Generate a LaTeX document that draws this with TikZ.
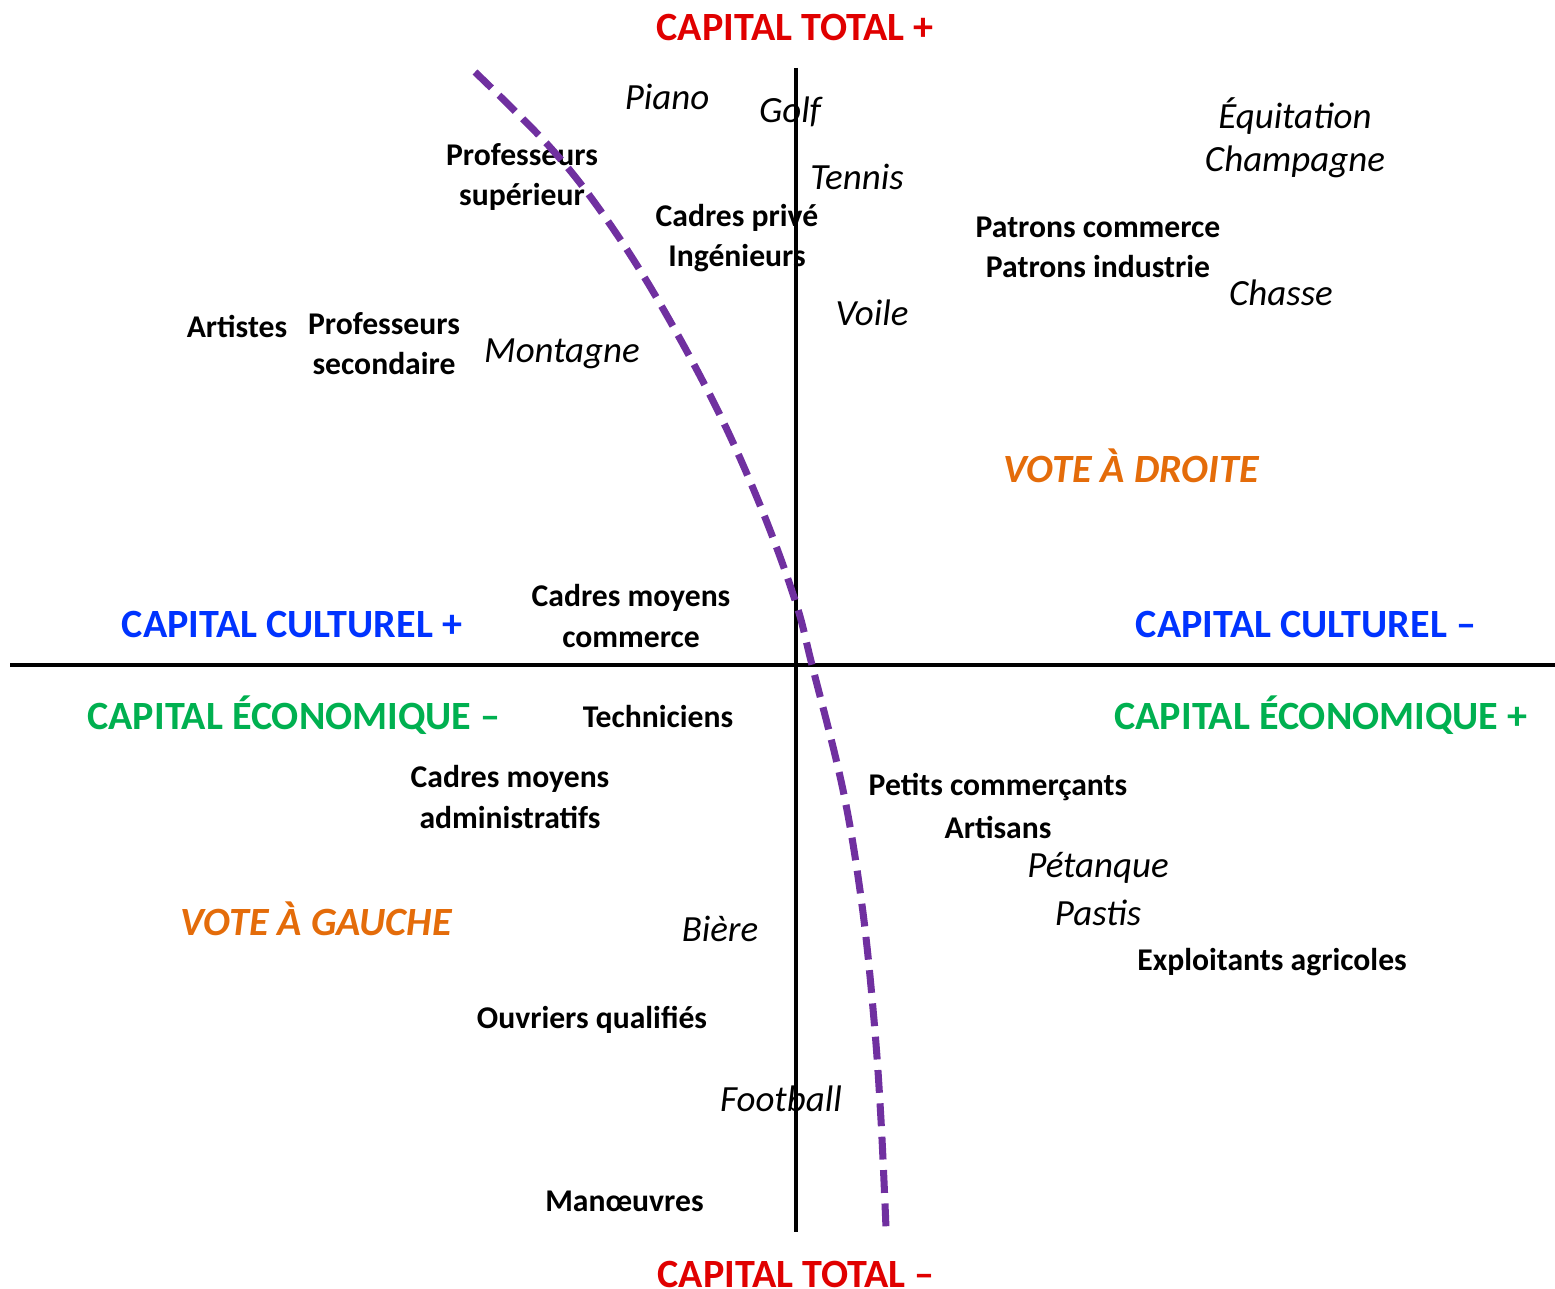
\documentclass[tikz,border=0pt]{standalone}
\usepackage{fontspec}
\setmainfont{Carlito}

\definecolor{totalred}{RGB}{224,0,0}
\definecolor{culturblue}{RGB}{0,51,255}
\definecolor{ecogreen}{RGB}{0,176,80}
\definecolor{voteorange}{RGB}{228,108,10}
\definecolor{limitpurple}{RGB}{112,48,160}

\begin{document}
\begin{tikzpicture}[x={(0.01cm,0cm)},
y={(0cm,-0.01cm)},
metier/.style={font=\bfseries\fontsize{9}{11.4}\selectfont, align=center, inner sep=0pt},
sport/.style={font=\itshape\fontsize{10.5}{12}\selectfont, inner sep=0pt},
axe/.style={font=\bfseries\fontsize{11.4}{13}\selectfont, inner sep=0pt},
vote/.style={font=\bfseries\itshape\fontsize{11.4}{13}\selectfont, text=voteorange, inner sep=0pt}]

\useasboundingbox (0,0) rectangle (1555,1288);

\coordinate (West) at (10,665);
\coordinate (East) at (1555,665);
\coordinate (North) at (796,68);
\coordinate (South) at (796,1232);

% titres des axes
\node[axe, text=totalred] (TotalPlus) at (795,27) {CAPITAL TOTAL +};
\node[axe, text=totalred] (TotalMoins) at (796,1274) {CAPITAL TOTAL --};
\node[axe, text=culturblue] (CulturPlus) at (292,624) {CAPITAL CULTUREL +};
\node[axe, text=culturblue] (CulturMoins) at (1306,624) {CAPITAL CULTUREL --};
\node[axe, text=ecogreen] (EcoMoins) at (294,715) {CAPITAL ÉCONOMIQUE --};
\node[axe, text=ecogreen] (EcoPlus) at (1321,715) {CAPITAL ÉCONOMIQUE +};

\node[vote] (Droite) at (1131,466) {VOTE À DROITE};
\node[vote] (Gauche) at (316,919) {VOTE À GAUCHE};

% professions
\foreach \n/\x/\y/\t in
{ ProfSup/522/177/{Professeurs\\supérieur},
    CadPrive/737/238/{Cadres privé\\Ingénieurs},
    Patrons/1098/247/{Patrons commerce\\Patrons industrie},
    Artistes/237/326/{Artistes},
    ProfSec/384/344/{Professeurs\\secondaire},
    CadCom/631/616/{Cadres moyens\\commerce},
    Techn/658/717/{Techniciens},
    CadAdm/510/797/{Cadres moyens\\administratifs},
    PetitsCom/998/787/{Petits commerçants},
    Artisans/998/827/{Artisans},
    Exploit/1272/962/{Exploitants agricoles},
    Ouvriers/592/1020/{Ouvriers qualifiés},
    Manoeuvres/628/1201/{Manœuvres}
}
{
    \node[metier] (\n) at (\x,\y) {\t};
};

% pratiques
\foreach \n/\x/\y/\t in
{ Piano/667/97/Piano,
    Golf/790/112/Golf,
    Tennis/857/177/Tennis,
    Equitation/1295/116/Équitation,
    Champagne/1295/162/Champagne,
    Chasse/1281/293/Chasse,
    Voile/872/313/Voile,
    Montagne/562/354/Montagne,
    Petanque/1098/868/Pétanque,
    Pastis/1098/913/Pastis,
    Biere/720/929/Bière,
    Football/781/1099/Football
}
{
    \node[sport] (\n) at (\x,\y) {\t};
};

\draw[line width=1pt] (West) -- (East) (North) -- (South);

\draw[limitpurple, line width=2pt, dash pattern=on 6.5pt off 3pt]
plot[smooth, tension=0.6] coordinates {(475,72) (548,145) (600,210) (655,295) (715,405) (760,505) (795,600) (812,665) (843,790) (862,905) (874,1020) (881,1120) (886,1228)};

\end{tikzpicture}
\end{document}
